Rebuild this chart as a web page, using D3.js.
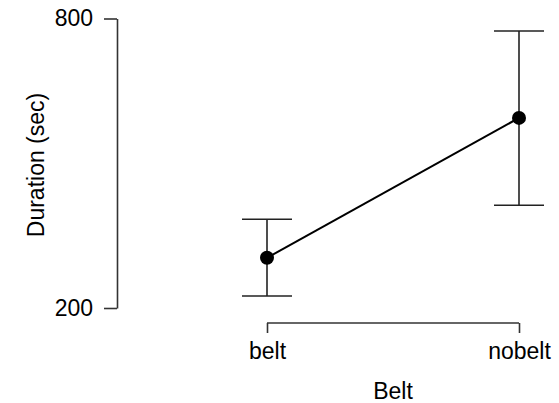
<!DOCTYPE html>
<html>
<head>
<meta charset="utf-8">
<script src="https://cdn.jsdelivr.net/npm/d3@7"></script>
<style>
  body { margin: 0; background: #fff; }
  svg { display: block; font-family: "Liberation Sans", Arial, sans-serif; }
</style>
</head>
<body>
<svg id="chart"></svg>
<script>
const SVG_WIDTH = 559;
const SVG_HEIGHT = 403;

// data
const conditions = ["belt", "nobelt"];
const means = [304, 594];
const upper = [384, 774];
const lower = [225, 413];
const yTicks = [200, 800];

const Y_TOP = 18.5;
const Y_BOTTOM = 308;
const X_LEFT = 267;
const X_RIGHT = 519;
const Y_AXIS_X = 117;
const X_AXIS_Y = 323;
const CAP = 25;
const RADIUS = 7;
const FONT = "Liberation Sans, Arial, sans-serif";

const svg = d3.select("#chart").attr("width", SVG_WIDTH).attr("height", SVG_HEIGHT);

const xScale = d3.scalePoint().domain(conditions).range([X_LEFT, X_RIGHT]);
const yScale = d3.scaleLinear().domain([200, 800]).range([Y_BOTTOM, Y_TOP]);

const data = conditions.map(function(c, i) {
	return {cond: c, mean: means[i], hi: upper[i], lo: lower[i]};
});

// Y axis
const yAxisArea = svg.append("g")
	.attr("transform", "translate(" + Y_AXIS_X + ",0)")
	.call(d3.axisLeft(yScale).tickValues(yTicks).tickSize(13).tickPadding(11).tickSizeOuter(0));
yAxisArea.select(".domain").attr("stroke", "#333").attr("stroke-width", 1.6);
yAxisArea.selectAll(".tick line").attr("stroke", "#333").attr("stroke-width", 1.6);
yAxisArea.selectAll(".tick text")
	.attr("font-size", 23).attr("fill", "#000")
	.attr("font-family", FONT);

// X axis (bracket style)
const xAxisArea = svg.append("g")
	.attr("transform", "translate(0," + X_AXIS_Y + ")")
	.call(d3.axisBottom(xScale).tickSize(10).tickPadding(10).tickSizeOuter(0));
xAxisArea.select(".domain").attr("stroke", "#333").attr("stroke-width", 1.6)
	.attr("d", "M" + X_LEFT + ",0H" + X_RIGHT);
xAxisArea.selectAll(".tick line").attr("stroke", "#333").attr("stroke-width", 1.6);
xAxisArea.selectAll(".tick text")
	.attr("font-size", 23).attr("fill", "#000")
	.attr("font-family", FONT);

// error bars
const bars = svg.append("g").attr("stroke", "#222").attr("stroke-width", 1.6);
bars.selectAll("line.v").data(data).enter().append("line")
	.attr("x1", function(d) { return xScale(d.cond); })
	.attr("x2", function(d) { return xScale(d.cond); })
	.attr("y1", function(d) { return yScale(d.lo); })
	.attr("y2", function(d) { return yScale(d.hi); });
bars.selectAll("line.hi").data(data).enter().append("line")
	.attr("x1", function(d) { return xScale(d.cond) - CAP; })
	.attr("x2", function(d) { return xScale(d.cond) + CAP; })
	.attr("y1", function(d) { return yScale(d.hi); })
	.attr("y2", function(d) { return yScale(d.hi); });
bars.selectAll("line.lo").data(data).enter().append("line")
	.attr("x1", function(d) { return xScale(d.cond) - CAP; })
	.attr("x2", function(d) { return xScale(d.cond) + CAP; })
	.attr("y1", function(d) { return yScale(d.lo); })
	.attr("y2", function(d) { return yScale(d.lo); });

// line between means
svg.append("path")
	.datum(data)
	.attr("fill", "none")
	.attr("stroke", "#000")
	.attr("stroke-width", 2)
	.attr("d", d3.line().x(function(d) { return xScale(d.cond); }).y(function(d) { return yScale(d.mean); }));

// points
svg.selectAll("circle")
	.data(data)
	.enter()
	.append("circle")
	.attr("cx", function(d) { return xScale(d.cond); })
	.attr("cy", function(d) { return yScale(d.mean); })
	.attr("r", RADIUS)
	.attr("fill", "#000");

// axis titles
svg.append("text")
	.attr("x", (X_LEFT + X_RIGHT) / 2)
	.attr("y", 399)
	.attr("text-anchor", "middle")
	.attr("font-size", 23)
	.attr("font-family", FONT)
	.text("Belt");

svg.append("text")
	.attr("transform", "translate(44,165) rotate(-90)")
	.attr("text-anchor", "middle")
	.attr("font-size", 23)
	.attr("font-family", FONT)
	.text("Duration (sec)");
</script>
</body>
</html>
